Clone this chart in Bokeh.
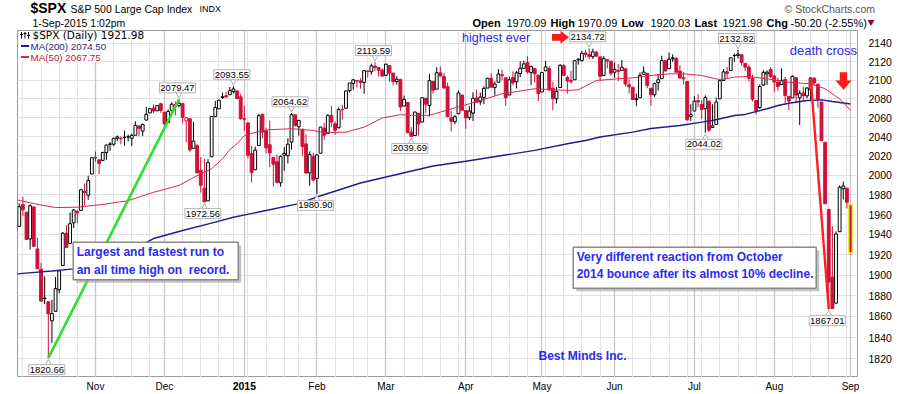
import math
import pandas as pd
from bokeh.plotting import figure
from bokeh.models import ColumnDataSource, Range1d, FixedTicker, Grid, NumeralTickFormatter
from bokeh.layouts import column
from bokeh.embed import file_html
from bokeh.resources import INLINE
from bokeh.core.properties import value

# ---------------- data ----------------
holidays = ["2014-11-27", "2014-12-25", "2015-01-01", "2015-01-19", "2015-02-16",
            "2015-04-03", "2015-05-25", "2015-07-03"]
trading_days = [d.strftime("%Y-%m-%d") for d in pd.bdate_range("2014-10-02", "2015-09-01")
                if d.strftime("%Y-%m-%d") not in holidays]

opens = [
    # Oct 2014
    1945.83, 1948.12, 1970.01, 1962.36, 1935.55, 1967.68, 1925.63, 1905.65, 1877.11, 1874.18, 1855.95,
    1864.91, 1885.62, 1909.38, 1941.29, 1931.02, 1951.59, 1962.97, 1964.14, 1983.29, 1979.49, 2001.20,
    # Nov
    2018.21, 2015.81, 2015.29, 2023.33, 2032.36, 2032.01, 2038.20, 2037.75, 2039.21, 2039.74, 2038.29,
    2041.48, 2051.16, 2045.87, 2057.46, 2065.07, 2070.15, 2067.36, 2074.78,
    # Dec
    2065.78, 2054.77, 2067.45, 2073.64, 2072.78, 2074.84, 2056.55, 2058.86, 2027.92, 2030.36, 2005.03,
    1986.71, 1973.77, 2018.98, 2061.04, 2069.28, 2081.48, 2083.25, 2084.30, 2087.63, 2088.49, 2082.11,
    # Jan 2015
    2058.90, 2054.44, 2022.15, 2005.55, 2030.61, 2063.45, 2046.13, 2031.58, 2018.40, 2013.75, 1992.25,
    2020.76, 2020.19, 2034.30, 2062.98, 2050.42, 2047.86, 2032.34, 2002.45, 2019.35,
    # Feb
    1996.67, 2022.71, 2048.86, 2043.45, 2062.28, 2053.47, 2049.38, 2068.55, 2069.98, 2088.78, 2096.47,
    2099.16, 2099.25, 2097.65, 2109.83, 2109.10, 2115.30, 2113.91, 2110.88,
    # Mar
    2105.23, 2115.76, 2107.72, 2098.54, 2100.91, 2072.25, 2076.14, 2044.69, 2041.10, 2064.56, 2055.35,
    2080.59, 2072.84, 2098.69, 2090.32, 2107.99, 2103.94, 2093.10, 2059.94, 2055.78, 2064.11, 2084.05,
    # Apr
    2067.63, 2060.03, 2064.87, 2080.79, 2076.94, 2081.29, 2091.51, 2102.03, 2092.28, 2097.82, 2105.96,
    2102.58, 2084.11, 2102.82, 2098.27, 2107.21, 2112.80, 2119.29, 2108.35, 2112.49, 2105.52,
    # May
    2087.38, 2110.23, 2112.63, 2091.26, 2079.96, 2092.13, 2115.56, 2102.87, 2099.62, 2100.43, 2122.07,
    2121.30, 2129.45, 2127.79, 2125.55, 2130.36, 2125.34, 2105.13, 2122.27, 2120.66,
    # Jun
    2108.64, 2110.41, 2110.64, 2112.35, 2095.09, 2092.34, 2079.07, 2081.12, 2106.24, 2107.43, 2091.34,
    2084.26, 2097.40, 2101.58, 2121.06, 2112.50, 2123.16, 2123.65, 2109.96, 2102.62, 2098.63, 2061.19,
    # Jul
    2067.00, 2078.03, 2073.95, 2069.52, 2077.66, 2049.73, 2052.74, 2080.03, 2099.72, 2109.21, 2110.55,
    2126.80, 2126.85, 2127.55, 2118.21, 2114.16, 2102.24, 2078.19, 2070.75, 2094.70, 2106.78, 2111.60,
    # Aug
    2104.49, 2097.68, 2095.27, 2100.75, 2082.61, 2080.98, 2102.66, 2081.10, 2086.19, 2083.15, 2089.70,
    2101.99, 2095.69, 2076.61, 2034.08, 1965.15, 1898.08, 1872.75, 1942.77, 1986.06, 1986.73,
    # Sep
    1970.09,
]

highs = [
    1952.32, 1971.19, 1977.84, 1962.36, 1970.36, 1967.68, 1936.98, 1912.09, 1898.71, 1874.18, 1876.01,
    1898.16, 1905.03, 1942.45, 1949.31, 1961.95, 1965.27, 1964.64, 1985.05, 1991.40, 1999.40, 2018.19,
    2024.46, 2015.98, 2023.77, 2031.61, 2034.26, 2038.70, 2041.28, 2040.33, 2046.18, 2042.22, 2043.07,
    2056.08, 2052.14, 2053.84, 2071.46, 2070.17, 2074.21, 2073.29, 2075.76,
    2065.78, 2068.77, 2076.28, 2077.34, 2079.47, 2075.78, 2060.60, 2058.86, 2055.53, 2032.25, 2018.69,
    2016.89, 2016.75, 2061.23, 2077.85, 2078.76, 2086.73, 2087.56, 2092.70, 2093.55, 2088.49, 2085.58,
    2072.36, 2054.44, 2030.25, 2029.61, 2064.08, 2064.43, 2049.30, 2056.93, 2018.40, 2021.35, 2020.46,
    2028.94, 2038.29, 2064.62, 2062.98, 2057.62, 2047.86, 2042.49, 2024.64, 2023.32,
    2021.66, 2050.30, 2054.74, 2063.55, 2072.40, 2056.16, 2070.86, 2073.48, 2088.53, 2097.03, 2101.30,
    2100.23, 2102.13, 2110.61, 2110.05, 2117.94, 2119.59, 2113.91, 2112.74,
    2117.52, 2115.76, 2107.72, 2104.25, 2100.91, 2083.49, 2076.14, 2050.08, 2066.41, 2064.56, 2081.41,
    2080.59, 2106.85, 2098.69, 2113.92, 2114.86, 2107.63, 2097.43, 2067.15, 2062.83, 2088.97, 2084.05,
    2067.63, 2072.17, 2086.99, 2089.81, 2086.69, 2093.31, 2102.61, 2107.65, 2098.62, 2111.91, 2111.30,
    2102.58, 2103.94, 2109.64, 2109.98, 2120.49, 2120.92, 2125.92, 2116.04, 2113.65, 2105.52,
    2108.41, 2120.95, 2115.24, 2098.42, 2092.90, 2117.66, 2117.69, 2105.06, 2110.19, 2121.45, 2123.89,
    2131.78, 2133.02, 2134.72, 2134.28, 2132.15, 2125.34, 2126.22, 2122.27, 2120.66,
    2119.15, 2117.59, 2121.92, 2112.89, 2100.99, 2093.01, 2085.62, 2108.50, 2115.02, 2107.43, 2091.34,
    2097.40, 2106.79, 2126.65, 2121.64, 2129.87, 2128.03, 2125.10, 2116.04, 2108.92, 2098.63, 2074.28,
    2082.78, 2085.06, 2078.61, 2083.74, 2077.66, 2074.28, 2081.31, 2100.67, 2111.98, 2114.14, 2124.42,
    2128.91, 2132.82, 2128.49, 2118.51, 2116.87, 2106.01, 2078.19, 2095.60, 2110.60, 2110.48, 2114.24,
    2105.70, 2102.51, 2112.66, 2103.32, 2082.61, 2105.35, 2102.66, 2089.06, 2092.93, 2092.45, 2102.87,
    2103.47, 2096.17, 2076.61, 2034.08, 1965.15, 1948.04, 1943.09, 1989.60, 1993.48, 1986.73,
    1970.09,
]

lows = [
    1926.03, 1948.12, 1958.43, 1935.10, 1925.25, 1927.56, 1906.05, 1874.14, 1871.79, 1820.66, 1835.02,
    1864.91, 1882.30, 1909.38, 1926.83, 1931.02, 1946.27, 1951.37, 1964.14, 1969.04, 1974.75, 2001.20,
    2013.68, 2001.01, 2014.42, 2015.86, 2025.07, 2030.17, 2035.28, 2031.95, 2030.44, 2035.20, 2030.20,
    2041.48, 2040.37, 2040.49, 2056.75, 2065.07, 2064.75, 2066.62, 2065.06,
    2049.57, 2054.77, 2066.65, 2062.34, 2070.81, 2054.27, 2034.17, 2024.26, 2027.92, 2002.33, 1982.26,
    1972.56, 1973.77, 2018.98, 2061.03, 2069.28, 2079.77, 2081.86, 2084.30, 2085.75, 2079.53, 2057.94,
    2046.04, 2017.34, 1992.44, 2005.55, 2030.61, 2038.33, 2022.58, 2008.25, 1988.44, 1991.47, 1988.12,
    2004.49, 2012.04, 2026.38, 2050.54, 2040.97, 2019.91, 2001.49, 1989.18, 1993.38,
    1980.90, 2022.71, 2036.72, 2043.45, 2049.97, 2041.88, 2048.62, 2057.99, 2069.98, 2086.70, 2089.80,
    2092.15, 2090.79, 2085.44, 2102.68, 2105.87, 2109.89, 2103.76, 2103.75,
    2104.50, 2098.26, 2094.49, 2095.22, 2067.27, 2072.21, 2044.16, 2039.69, 2041.10, 2041.17, 2055.35,
    2065.08, 2061.23, 2085.56, 2090.32, 2104.42, 2091.50, 2061.05, 2045.50, 2052.96, 2064.11, 2067.04,
    2048.38, 2057.32, 2056.52, 2076.10, 2073.30, 2074.29, 2091.51, 2092.33, 2083.24, 2097.82, 2100.02,
    2072.37, 2084.11, 2094.38, 2091.05, 2103.19, 2112.80, 2107.04, 2094.89, 2097.41, 2077.59,
    2087.38, 2110.23, 2088.46, 2067.93, 2074.99, 2092.13, 2104.58, 2085.57, 2096.04, 2100.43, 2116.81,
    2120.01, 2124.50, 2122.59, 2122.95, 2126.06, 2099.18, 2105.13, 2112.86, 2104.89,
    2102.54, 2099.14, 2110.64, 2093.23, 2085.67, 2079.11, 2072.14, 2081.12, 2106.24, 2091.33, 2072.49,
    2082.10, 2088.86, 2101.58, 2109.45, 2112.50, 2119.89, 2108.58, 2101.78, 2095.38, 2056.64, 2056.32,
    2067.00, 2071.02, 2058.40, 2044.02, 2044.66, 2049.73, 2052.74, 2080.03, 2099.72, 2102.49, 2110.55,
    2119.88, 2123.66, 2115.40, 2110.00, 2098.63, 2077.09, 2063.52, 2069.09, 2094.08, 2094.97, 2102.07,
    2087.31, 2088.60, 2095.27, 2075.53, 2067.91, 2080.98, 2076.49, 2052.09, 2078.26, 2080.61, 2079.30,
    2094.14, 2070.53, 2035.73, 1970.89, 1867.01, 1867.08, 1872.75, 1942.77, 1975.19, 1965.98,
    1920.03,
]

closes = [
    1946.17, 1967.90, 1964.82, 1935.10, 1968.89, 1928.21, 1906.13, 1874.74, 1877.70, 1862.49, 1862.76,
    1886.76, 1904.01, 1941.28, 1927.11, 1950.82, 1964.58, 1961.63, 1985.05, 1982.30, 1994.65, 2018.05,
    2017.81, 2012.10, 2023.57, 2031.21, 2031.92, 2038.26, 2039.68, 2038.25, 2039.33, 2039.82, 2041.32,
    2051.80, 2048.72, 2052.75, 2063.50, 2069.41, 2067.03, 2072.83, 2067.56,
    2053.44, 2066.55, 2074.33, 2071.92, 2075.37, 2060.31, 2059.82, 2026.14, 2035.33, 2002.33, 1989.63,
    1972.74, 2012.89, 2061.23, 2070.65, 2078.54, 2082.17, 2081.88, 2088.77, 2090.57, 2080.35, 2058.90,
    2058.20, 2020.58, 2002.61, 2025.90, 2062.14, 2044.81, 2028.26, 2023.03, 2011.27, 1992.67, 2019.42,
    2022.55, 2032.12, 2063.15, 2051.82, 2057.09, 2029.55, 2002.16, 2021.25, 1994.99,
    2020.85, 2050.03, 2041.51, 2062.52, 2055.47, 2046.74, 2068.59, 2068.53, 2088.48, 2096.99, 2100.34,
    2099.68, 2097.45, 2110.30, 2109.66, 2115.48, 2113.86, 2110.74, 2104.50,
    2117.39, 2107.78, 2098.53, 2101.04, 2071.26, 2079.43, 2044.16, 2040.24, 2065.95, 2053.40, 2081.19,
    2074.28, 2099.50, 2089.27, 2108.10, 2104.42, 2091.50, 2061.05, 2056.15, 2061.02, 2086.24, 2067.89,
    2059.69, 2066.96, 2080.62, 2076.33, 2081.90, 2091.18, 2102.06, 2092.43, 2095.84, 2106.63, 2104.99,
    2081.18, 2100.40, 2097.29, 2107.96, 2112.93, 2117.69, 2108.92, 2114.76, 2106.85, 2085.51,
    2108.29, 2114.49, 2089.46, 2080.15, 2088.00, 2116.10, 2105.33, 2099.12, 2098.48, 2121.10, 2122.73,
    2129.20, 2127.83, 2125.85, 2130.82, 2126.06, 2104.20, 2123.48, 2120.79, 2107.39,
    2111.73, 2109.60, 2114.07, 2095.84, 2092.83, 2079.28, 2080.15, 2105.20, 2108.86, 2094.11, 2084.43,
    2096.29, 2100.44, 2121.24, 2109.99, 2122.85, 2124.20, 2108.58, 2102.31, 2101.49, 2057.64, 2063.11,
    2077.42, 2076.78, 2068.76, 2081.34, 2046.68, 2051.31, 2076.62, 2099.60, 2108.95, 2107.40, 2124.29,
    2126.64, 2128.28, 2119.21, 2114.15, 2102.15, 2079.65, 2067.64, 2093.25, 2108.57, 2108.63, 2103.84,
    2098.04, 2093.32, 2099.84, 2083.56, 2077.57, 2104.18, 2084.07, 2086.05, 2083.39, 2091.54, 2102.44,
    2096.92, 2079.61, 2035.73, 1970.89, 1893.21, 1867.61, 1940.51, 1987.66, 1988.87, 1972.18,
    1921.98,
]

ma200_dates = ["2014-10-02", "2014-10-16", "2014-10-24", "2014-11-12", "2014-11-25", "2014-12-08",
               "2014-12-19", "2014-12-29", "2015-01-12", "2015-01-26", "2015-02-02", "2015-02-19",
               "2015-03-19", "2015-04-01", "2015-04-16", "2015-04-29", "2015-05-12", "2015-05-19",
               "2015-05-26", "2015-06-08", "2015-06-15", "2015-06-25", "2015-07-06", "2015-07-09",
               "2015-07-17", "2015-07-22", "2015-07-30", "2015-08-04", "2015-08-07", "2015-08-14",
               "2015-08-20", "2015-08-25", "2015-09-01"]
ma200_vals = [1901.0, 1904.0, 1906.0, 1919.0, 1936.0, 1944.0, 1952.3, 1957.3, 1964.0, 1971.0, 1977.7,
              1992.0, 2009.5, 2014.4, 2020.3, 2025.6, 2032.5, 2036.0, 2039.6, 2044.7, 2048.6, 2051.7,
              2055.2, 2057.0, 2062.3, 2063.4, 2069.4, 2072.9, 2075.3, 2078.2, 2078.9, 2077.1, 2074.50]

ma50_dates = ["2014-10-02", "2014-10-09", "2014-10-17", "2014-10-27", "2014-11-05", "2014-11-14",
              "2014-11-25", "2014-12-05", "2014-12-12", "2014-12-18", "2014-12-23", "2014-12-26",
              "2014-12-30", "2015-01-02", "2015-01-08", "2015-01-13", "2015-01-22", "2015-01-30",
              "2015-02-04", "2015-02-12", "2015-02-20", "2015-02-27", "2015-03-06", "2015-03-11",
              "2015-03-18", "2015-03-23", "2015-04-02", "2015-04-16", "2015-04-29", "2015-05-12",
              "2015-05-15", "2015-05-22", "2015-06-02", "2015-06-08", "2015-06-15", "2015-06-22",
              "2015-06-26", "2015-07-06", "2015-07-13", "2015-07-17", "2015-07-23", "2015-07-30",
              "2015-08-07", "2015-08-17", "2015-08-21", "2015-08-27", "2015-09-01"]
ma50_vals = [1975.2, 1971.0, 1967.0, 1967.4, 1970.2, 1974.0, 1982.5, 1989.5, 1999.5, 2006.6, 2017.0,
             2026.4, 2032.6, 2041.0, 2045.6, 2047.3, 2048.3, 2046.5, 2044.2, 2044.7, 2050.0, 2059.6,
             2063.2, 2062.4, 2062.4, 2065.9, 2074.7, 2085.4, 2090.8, 2089.0, 2089.7, 2099.7, 2101.5,
             2102.6, 2105.1, 2106.9, 2106.9, 2105.1, 2100.5, 2103.3, 2104.0, 2101.5, 2097.8, 2096.1,
             2090.8, 2080.0, 2067.75]

y_ticks = list(range(1820, 2141, 20))

callouts = [("2014-10-15", "low"), ("2014-12-05", "high"), ("2014-12-16", "low"),
            ("2014-12-29", "high"), ("2015-01-22", "high"), ("2015-02-02", "low"),
            ("2015-02-25", "high"), ("2015-03-11", "low"), ("2015-05-20", "high"),
            ("2015-07-07", "low"), ("2015-07-20", "high"), ("2015-08-24", "low")]
green_line = [("2014-10-15", "low"), ("2014-12-05", "high")]
red_line = [("2015-08-17", "high"), ("2015-08-24", "low")]

note1 = ["Largest and fastest run to", "an all time high on \u00a0record."]
note2 = ["Very different reaction from October", "2014 bounce after its almost 10% decline."]

n = len(trading_days)
assert len(opens) == n and len(highs) == n and len(lows) == n and len(closes) == n
pos = {d: i for i, d in enumerate(trading_days)}

# ---------------- geometry helpers (page pixels) ----------------
RED = "#d0103a"
BLUE = "#2b2bef"
FONT = "Liberation Sans"
FL, FR, FT, FB = 17.0, 857.0, 30.0, 377.0
X0, X1 = 0.515, 231.92
Y0, Y1 = 1802.6, 2154.3
LNR = math.log(Y1 / Y0)


def dx(px):
    return X0 + (px - FL) * (X1 - X0) / (FR - FL)


def dy(py):
    return Y0 * math.exp((FB - py) / (FB - FT) * LNR)


def sx(i):
    return FL + (i - X0) * (FR - FL) / (X1 - X0)


def sy(v):
    return FB - math.log(v / Y0) / LNR * (FB - FT)


# ---------------- main chart ----------------
p = figure(frame_width=840, frame_height=347, x_range=Range1d(X0, X1), y_range=Range1d(Y0, Y1),
           y_axis_type="log", y_axis_location="right", x_axis_location=None,
           toolbar_location=None, output_backend="svg",
           min_border_left=17, min_border_right=0, min_border_top=0, min_border_bottom=0,
           background_fill_color="white", border_fill_color="white", outline_line_color="#9a9a9a")
p.xgrid.visible = False
yt = FixedTicker(ticks=y_ticks)
p.yaxis.ticker = yt
p.ygrid.ticker = yt
p.ygrid.grid_line_color = "#e1e1e1"
p.yaxis.formatter = NumeralTickFormatter(format="0")
p.yaxis.major_label_text_font = FONT
p.yaxis.major_label_text_font_size = "10.5px"
p.yaxis.major_label_text_color = "#000000"
p.yaxis.axis_line_color = None
p.yaxis.major_tick_line_color = None
p.yaxis.minor_tick_line_color = None
p.yaxis.major_label_standoff = 5

month_idx = [i for i in range(1, n) if trading_days[i][5:7] != trading_days[i - 1][5:7]]
week_idx = [i for i in range(1, n)
            if pd.Timestamp(trading_days[i]).isocalendar()[1] != pd.Timestamp(trading_days[i - 1]).isocalendar()[1]
            and i not in month_idx]
p.add_layout(Grid(dimension=0, ticker=FixedTicker(ticks=week_idx), grid_line_color="#e3e3e3"))
p.add_layout(Grid(dimension=0, ticker=FixedTicker(ticks=month_idx), grid_line_color="#c6c6c6",
                  grid_line_width=1.3))

# candles
prev = [closes[0]] + closes[:-1]
col = ["#000000" if c >= pc else RED for c, pc in zip(closes, prev)]
fill = ["#ffffff" if c >= o else k for o, c, k in zip(opens, closes, col)]
src = ColumnDataSource(dict(x=list(range(n)), h=highs, l=lows,
                            top=[max(o, c) for o, c in zip(opens, closes)],
                            bottom=[min(o, c) for o, c in zip(opens, closes)],
                            col=col, fill=fill))
p.segment(x0="x", y0="l", x1="x", y1="h", line_color="col", line_width=1, source=src)
p.vbar(x="x", width=0.78, top="top", bottom="bottom", fill_color="fill", line_color="col",
       line_width=1, source=src)
# highlight of the latest bar
p.vbar(x=[n - 1], width=1.0, top=[max(opens[-1], closes[-1])], bottom=[min(opens[-1], closes[-1])],
       fill_color=None, line_color="#eded3a", line_width=1.5)

# moving averages
p.line([pos[d] for d in ma200_dates], ma200_vals, line_color="#1d1d8f", line_width=1.4)
p.line([pos[d] for d in ma50_dates], ma50_vals, line_color="#e0264e", line_width=1.0)


def anchor(a):
    d, kind = a
    i = pos[d]
    return i, (highs[i] if kind == "high" else lows[i])


# green and red trend lines
gx, gy = zip(*[anchor(a) for a in green_line])
p.line(list(gx), list(gy), line_color="#2de02d", line_width=2.6)
rx, ry = zip(*[anchor(a) for a in red_line])
p.line(list(rx), list(ry), line_color="#ff1f1f", line_width=2.4)

# callout boxes with high/low values
for d, kind in callouts:
    i, v = anchor((d, kind))
    px, py = sx(i), sy(v)
    s = -1 if kind == "high" else 1
    cx, cy = px - 1.5, py + s * 11.5
    edge = cy - s * 4.6
    tip = py + s * 1.2
    p.patch([dx(px - 3), dx(px + 3), dx(px)], [dy(edge), dy(edge), dy(tip)],
            fill_color="white", line_color="#b0b0b0", line_width=1)
    p.quad(left=[dx(cx - 18)], right=[dx(cx + 18)], top=[dy(cy - 5)], bottom=[dy(cy + 5)],
           fill_color="white", line_color="#b4b4b4", line_width=1)
    p.text(x=[dx(cx)], y=[dy(cy)], text=[f"{v:.2f}"], text_font=value(FONT), text_font_size="9.5px",
           text_color="#000000", text_align="center", text_baseline="middle")

# legend rows (top-left)
for (l, t, r, b) in [(18, 30.5, 153, 39.8), (18, 39.8, 106, 51), (18, 51, 100, 62)]:
    p.quad(left=[dx(l)], right=[dx(r)], top=[dy(t)], bottom=[dy(b)], fill_color="white", line_color=None)
p.segment(x0=[dx(21), dx(24.5), dx(28)], y0=[dy(31.5), dy(31.5), dy(31.5)],
          x1=[dx(21), dx(24.5), dx(28)], y1=[dy(38), dy(38), dy(38)], line_color="black", line_width=1)
p.segment(x0=[dx(19.5), dx(23), dx(26.5)], y0=[dy(34), dy(33), dy(35)],
          x1=[dx(22.5), dx(26), dx(29.5)], y1=[dy(34), dy(33), dy(35)], line_color="black", line_width=1)
p.text(x=[dx(32)], y=[dy(34.8)], text=[f"$SPX (Daily) {closes[-1]:.2f}"], text_font=value("DejaVu Sans"),
       text_font_size="10.5px", text_color="#000000", text_baseline="middle")
p.segment(x0=[dx(20.5)], y0=[dy(45.5)], x1=[dx(28.5)], y1=[dy(45.5)], line_color="#1d1d8f", line_width=2)
p.text(x=[dx(30)], y=[dy(45.7)], text=[f"MA(200) {ma200_vals[-1]:.2f}"], text_font=value(FONT),
       text_font_size="9.8px", text_color="#1d1d8f", text_baseline="middle")
p.segment(x0=[dx(20.5)], y0=[dy(56.6)], x1=[dx(28.5)], y1=[dy(56.6)], line_color="#e0264e", line_width=2)
p.text(x=[dx(30)], y=[dy(56.8)], text=[f"MA(50) {ma50_vals[-1]:.2f}"], text_font=value(FONT),
       text_font_size="9.8px", text_color="#d0103a", text_baseline="middle")

# annotation texts
p.text(x=[dx(461.5)], y=[dy(37.8)], text=["highest ever"], text_font=value(FONT), text_font_size="12.5px",
       text_color=BLUE, text_baseline="middle")
p.text(x=[dx(856.5)], y=[dy(50)], text=["death cross"], text_font=value(FONT), text_font_size="13px",
       text_color=BLUE, text_baseline="middle", text_align="right")
p.text(x=[dx(538)], y=[dy(355.7)], text=["Best Minds Inc."], text_font=value(FONT), text_font_size="12px",
       text_font_style="bold", text_color=BLUE, text_baseline="middle")

# arrows
p.patch([dx(v) for v in [551.5, 560, 560, 568.5, 560, 560, 551.5]],
        [dy(v) for v in [33.4, 33.4, 30.3, 36.8, 43.3, 40.2, 40.2]], fill_color="#ff1a1a", line_color=None)
p.patch([dx(v) for v in [839.3, 846.7, 846.7, 851, 843, 835, 839.3]],
        [dy(v) for v in [71.7, 71.7, 80, 80, 89.3, 80, 80]], fill_color="#ff1a1a", line_color=None)

# text boxes
for (l, t, r, b), lines, ys in [((72.7, 241.7, 237.7, 279.3), note1, (251.7, 269.3)),
                                ((572.7, 246.7, 815.7, 287.7), note2, (256.7, 273.5))]:
    p.quad(left=[dx(l + 3)], right=[dx(r + 3)], top=[dy(t + 3)], bottom=[dy(b + 3)],
           fill_color="#a8a8a8", fill_alpha=0.7, line_color=None)
    p.quad(left=[dx(l)], right=[dx(r)], top=[dy(t)], bottom=[dy(b)], fill_color="white",
           line_color="#8a8a8a", line_width=1.5)
    p.text(x=[dx(l + 3.5)] * 2, y=[dy(v) for v in ys], text=lines, text_font=value(FONT),
           text_font_size="12px", text_font_style="bold", text_color=BLUE, text_baseline="middle")

# ---------------- header (page pixel coordinates) ----------------
hdr = figure(frame_width=891, frame_height=30, x_range=Range1d(0, 891), y_range=Range1d(30, 0),
             toolbar_location=None, output_backend="svg", x_axis_location=None, y_axis_location=None,
             min_border_left=0, min_border_right=0, min_border_top=0, min_border_bottom=0,
             outline_line_color=None, background_fill_color="white", border_fill_color="white")
hdr.xgrid.visible = False
hdr.ygrid.visible = False


def htext(x, y, s, size, bold=False, color="#000000"):
    hdr.text(x=[x], y=[y], text=[s], text_font=value(FONT), text_font_size=f"{size}px",
             text_font_style="bold" if bold else "normal", text_color=color, text_baseline="middle")


last = pd.Timestamp(trading_days[-1])
chg = closes[-1] - closes[-2]
pct = chg / closes[-2] * 100
L1, L2 = 7.5, 22.0
htext(13, L1, "$SPX", 14, True)
htext(53, L1 + 0.5, "S&P 500 Large Cap Index", 10.5)
htext(182, L1 + 0.5, "INDX", 9)
htext(767, L1 + 1, "\u00a9 StockCharts.com", 10.5, color="#555555")
htext(15, L2, f"{last.day}-{last.strftime('%b-%Y')} 1:02pm", 10.5)
for x, s, b in [(455, "Open", True), (489, f"{opens[-1]:.2f}", False), (533, "High", True),
                (560, f"{highs[-1]:.2f}", False), (604, "Low", True), (633, f"{lows[-1]:.2f}", False),
                (677, "Last", True), (705, f"{closes[-1]:.2f}", False), (749, "Chg", True),
                (773, f"{chg:.2f} ({pct:.2f}%)", False)]:
    htext(x, L2, s, 11, b)
hdr.scatter(x=[853.5], y=[L2 - 0.5], marker="inverted_triangle", size=7, fill_color="#99002b",
            line_color=None)

# ---------------- footer (month labels) ----------------
FW = 870
ftr = figure(frame_width=FW, frame_height=17, x_range=Range1d(X0, X0 + FW * (X1 - X0) / (FR - FL)),
             y_range=Range1d(17, 0),
             toolbar_location=None, output_backend="svg", x_axis_location=None, y_axis_location=None,
             min_border_left=17, min_border_right=0, min_border_top=0, min_border_bottom=0,
             outline_line_color=None, background_fill_color="white", border_fill_color="white")
ftr.xgrid.visible = False
ftr.ygrid.visible = False
m_norm = [i for i in month_idx if trading_days[i][5:7] != "01"]
m_year = [i for i in month_idx if trading_days[i][5:7] == "01"]
ftr.text(x=m_norm, y=[8.5] * len(m_norm), text=[pd.Timestamp(trading_days[i]).strftime("%b") for i in m_norm],
         text_font=value(FONT), text_font_size="10px", text_color="#000000", text_align="center",
         text_baseline="middle")
ftr.text(x=m_year, y=[8.5] * len(m_year), text=[trading_days[i][:4] for i in m_year],
         text_font=value(FONT), text_font_size="10.5px", text_font_style="bold", text_color="#000000",
         text_align="center", text_baseline="middle")

layout = column(hdr, p, ftr, spacing=0)
open("out.html", "w").write(file_html(layout, INLINE))
